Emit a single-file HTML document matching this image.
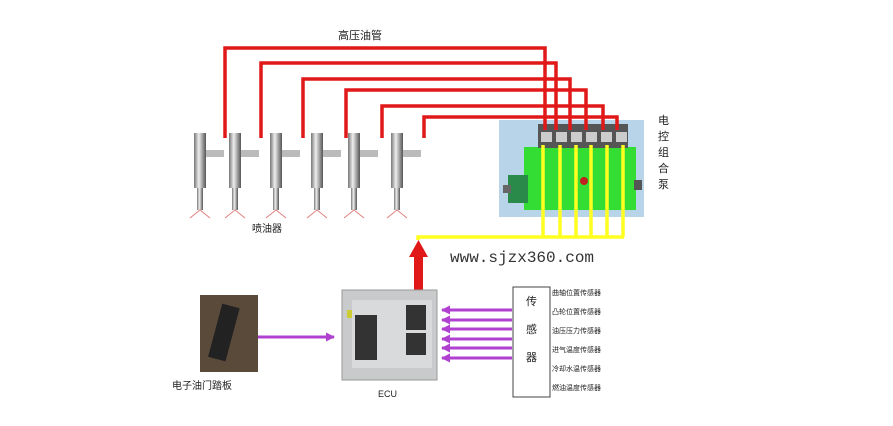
<!DOCTYPE html>
<html><head><meta charset="utf-8"><style>
body{margin:0;background:#fff;width:893px;height:421px;overflow:hidden}
text{font-family:"Liberation Sans","Noto Sans CJK SC",sans-serif;fill:#222}
</style></head><body>
<svg width="893" height="421" viewBox="0 0 893 421">
<defs>
<linearGradient id="inj" x1="0" x2="1"><stop offset="0" stop-color="#777"/><stop offset=".4" stop-color="#eee"/><stop offset="1" stop-color="#555"/></linearGradient>
<marker id="pa" markerUnits="userSpaceOnUse" markerWidth="9" markerHeight="9" refX="8" refY="4.5" orient="auto"><path d="M0,0 L9,4.5 L0,9z" fill="#b040d0"/></marker>
</defs>
<text x="338" y="39" font-size="11">高压油管</text>
<!-- pump -->
<rect x="499" y="120" width="145" height="97" fill="#b8d4e8"/>
<rect x="524" y="147" width="112" height="63" fill="#33dd33"/>
<rect x="508" y="175" width="20" height="28" fill="#2a8a4a"/>
<rect x="503" y="185" width="8" height="8" fill="#666"/>
<rect x="634" y="180" width="8" height="10" fill="#555"/>
<rect x="538" y="124" width="90" height="24" fill="#555"/>
<g fill="#ccc"><rect x="541" y="132" width="11" height="10"/><rect x="556" y="132" width="11" height="10"/><rect x="571" y="132" width="11" height="10"/><rect x="586" y="132" width="11" height="10"/><rect x="601" y="132" width="11" height="10"/><rect x="616" y="132" width="11" height="10"/></g>
<circle cx="584" cy="181" r="4" fill="#c02020"/>
<g font-size="11"><text x="658" y="124">电</text><text x="658" y="140">控</text><text x="658" y="156">组</text><text x="658" y="172">合</text><text x="658" y="188">泵</text></g>
<!-- red pipes -->
<g stroke="#e01818" stroke-width="3.5" fill="none">
<path d="M225,138 V48 H545 V130"/>
<path d="M261,138 V63 H556 V130"/>
<path d="M303,138 V79 H570 V130"/>
<path d="M346,138 V90 H586 V130"/>
<path d="M382,138 V106 H603 V130"/>
<path d="M424,138 V117 H617 V130"/>
</g>
<!-- injectors -->
<g>
<g transform="translate(200,0)"><rect x="-6" y="133" width="12" height="55" fill="url(#inj)"/><rect x="6" y="150" width="18" height="7" fill="#bbb"/><rect x="-3" y="188" width="6" height="22" fill="url(#inj)"/><path d="M-10,218 L0,210 L10,218" stroke="#e08080" fill="none"/></g>
<g transform="translate(235,0)"><rect x="-6" y="133" width="12" height="55" fill="url(#inj)"/><rect x="6" y="150" width="18" height="7" fill="#bbb"/><rect x="-3" y="188" width="6" height="22" fill="url(#inj)"/><path d="M-10,218 L0,210 L10,218" stroke="#e08080" fill="none"/></g>
<g transform="translate(276,0)"><rect x="-6" y="133" width="12" height="55" fill="url(#inj)"/><rect x="6" y="150" width="18" height="7" fill="#bbb"/><rect x="-3" y="188" width="6" height="22" fill="url(#inj)"/><path d="M-10,218 L0,210 L10,218" stroke="#e08080" fill="none"/></g>
<g transform="translate(317,0)"><rect x="-6" y="133" width="12" height="55" fill="url(#inj)"/><rect x="6" y="150" width="18" height="7" fill="#bbb"/><rect x="-3" y="188" width="6" height="22" fill="url(#inj)"/><path d="M-10,218 L0,210 L10,218" stroke="#e08080" fill="none"/></g>
<g transform="translate(354,0)"><rect x="-6" y="133" width="12" height="55" fill="url(#inj)"/><rect x="6" y="150" width="18" height="7" fill="#bbb"/><rect x="-3" y="188" width="6" height="22" fill="url(#inj)"/><path d="M-10,218 L0,210 L10,218" stroke="#e08080" fill="none"/></g>
<g transform="translate(397,0)"><rect x="-6" y="133" width="12" height="55" fill="url(#inj)"/><rect x="6" y="150" width="18" height="7" fill="#bbb"/><rect x="-3" y="188" width="6" height="22" fill="url(#inj)"/><path d="M-10,218 L0,210 L10,218" stroke="#e08080" fill="none"/></g>
</g>
<text x="252" y="232" font-size="10">喷油器</text>
<!-- yellow -->
<g stroke="#ffff20" stroke-width="3.5" fill="none">
<path d="M418,240 V237 H624"/>
<path d="M543,145 V237 M560,145 V237 M576,145 V237 M591,145 V237 M607,145 V237 M623,145 V237"/>
</g>
<!-- red arrow -->
<rect x="414" y="256" width="9" height="34" fill="#e01818"/>
<path d="M409,257 L418.5,240 L428,257z" fill="#e01818"/>
<text x="450" y="262" font-size="16" style="font-family:'Liberation Mono',monospace;fill:#333">www.sjzx360.com</text>
<!-- pedal -->
<rect x="200" y="295" width="58" height="77" fill="#5a4a3a"/>
<rect x="215" y="305" width="18" height="55" fill="#222" transform="rotate(15 224 332)"/>
<text x="172" y="389" font-size="10">电子油门踏板</text>
<line x1="258" y1="337" x2="334" y2="337" stroke="#b040d0" stroke-width="3" marker-end="url(#pa)"/>
<!-- ECU -->
<rect x="342" y="290" width="95" height="90" fill="#c8cacc" stroke="#999"/>
<rect x="352" y="300" width="80" height="68" fill="#d8dadc"/>
<rect x="355" y="315" width="22" height="45" fill="#333"/>
<rect x="406" y="305" width="20" height="25" fill="#333"/>
<rect x="406" y="333" width="20" height="22" fill="#333"/>
<rect x="347" y="310" width="5" height="8" fill="#cc3"/>
<text x="378" y="397" font-size="9">ECU</text>
<!-- sensor arrows -->
<g stroke="#b040d0" stroke-width="3" marker-end="url(#pa)">
<line x1="512" y1="310" x2="442" y2="310"/><line x1="512" y1="320" x2="442" y2="320"/><line x1="512" y1="329" x2="442" y2="329"/><line x1="512" y1="339" x2="442" y2="339"/><line x1="512" y1="348" x2="442" y2="348"/><line x1="512" y1="358" x2="442" y2="358"/>
</g>
<rect x="513" y="287" width="37" height="110" fill="#fff" stroke="#444"/>
<g font-size="11"><text x="526" y="305">传</text><text x="526" y="333">感</text><text x="526" y="361">器</text></g>
<g font-size="7"><text x="552" y="295">曲轴位置传感器</text><text x="552" y="314">凸轮位置传感器</text><text x="552" y="333">油压压力传感器</text><text x="552" y="352">进气温度传感器</text><text x="552" y="371">冷却水温传感器</text><text x="552" y="390">燃油温度传感器</text></g>
</svg>
</body></html>
